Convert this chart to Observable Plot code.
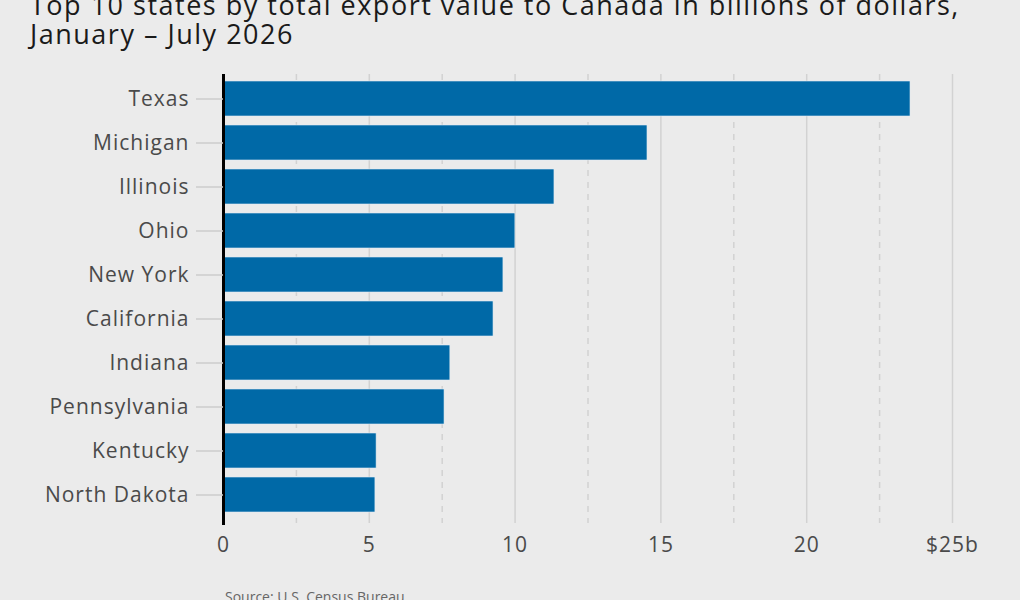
<!DOCTYPE html>
<html>
<head>
<meta charset="utf-8">
<script src="https://cdn.jsdelivr.net/npm/d3@7"></script>
<script src="https://cdn.jsdelivr.net/npm/@observablehq/plot@0.6"></script>
<style>
  html, body { margin: 0; padding: 0; background: #ebebeb; overflow: hidden; }
  body { width: 1020px; height: 600px; font-family: "Open Sans", sans-serif; }
  #title { margin-top: -10px; padding-left: 30px; font-size: 27px; line-height: 29px; letter-spacing: 1.5px; color: #1a1a1a; height: 58px; white-space: nowrap; }
  #caption { padding-left: 225px; padding-top: 9px; font-size: 14px; line-height: 18px; color: #666; }
  svg { display: block; }
</style>
</head>
<body>
<div id="title">Top 10 states by total export value to Canada in billions of dollars,<br>January – July 2026</div>
<div id="chart"></div>
<div id="caption">Source: U.S. Census Bureau</div>
<script>
const states = ["Texas", "Michigan", "Illinois", "Ohio", "New York", "California", "Indiana", "Pennsylvania", "Kentucky", "North Dakota"];
const values = [23.56, 14.54, 11.35, 10.01, 9.6, 9.26, 7.78, 7.58, 5.25, 5.21];
const majorTicks = [0, 5, 10, 15, 20, 25];
const gridMajor = [5, 10, 15, 20, 25];
const gridMinor = [2.5, 7.5, 12.5, 17.5, 22.5];

const data = states.map((s, i) => ({state: s, value: values[i]}));

const chart = Plot.plot({
  width: 1020,
  height: 531,
  marginLeft: 223,
  marginRight: 68,
  marginTop: 22,
  marginBottom: 56,
  style: { background: "transparent", fontFamily: "Open Sans, sans-serif", fontSize: "21px", color: "#4a4a4a", letterSpacing: "1px" },
  x: { domain: [0, 25] },
  y: { domain: states, padding: 0.2 },
  marks: [
    Plot.ruleX(gridMinor, { stroke: "#d2d2d2", strokeWidth: 1.5, strokeDasharray: "6,6", insetTop: 4 }),
    Plot.ruleX(gridMajor, { stroke: "#d2d2d2", strokeWidth: 1.5, insetTop: 4 }),
    Plot.barX(data, { x: "value", y: "state", fill: "#0069a7", stroke: "#e0ecf3", strokeWidth: 0.6 }),
    Plot.ruleX([0], { stroke: "#000", strokeWidth: 3, insetTop: 4, insetBottom: -2 }),
    Plot.axisY({ tickSize: 27, tickPadding: 7, stroke: "#cccccc", strokeWidth: 1.5, label: null, fill: "#4a4a4a" }),
    Plot.axisX({ ticks: majorTicks, tickSize: 0, tickPadding: 14, label: null, fill: "#4a4a4a",
      tickFormat: d => d === 25 ? "$25b" : String(d) })
  ]
});
document.getElementById("chart").appendChild(chart);
</script>
</body>
</html>
